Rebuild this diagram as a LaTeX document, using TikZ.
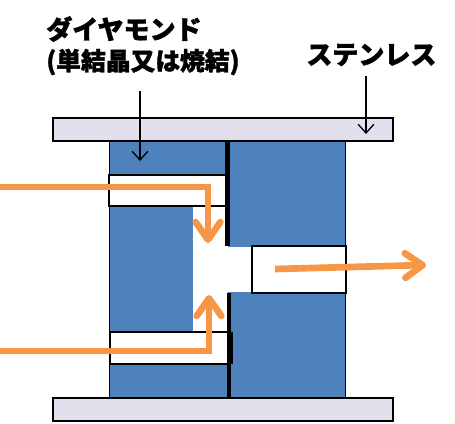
\documentclass[tikz,border=0pt]{standalone}
\usepackage{fontspec}
\newfontfamily\jpfont[BoldFeatures={FakeBold=1.5}]{Noto Sans CJK JP}
\usetikzlibrary{arrows.meta}
\definecolor{diamondblue}{HTML}{4F81BD}
\definecolor{steelgray}{HTML}{E4DFEC}
\definecolor{flowline}{HTML}{F79646}
\tikzset{
  plate/.style={draw=black, line width=1.1pt, fill=steelgray},
  block/.style={fill=diamondblue},
  channel/.style={draw=black, line width=1pt, fill=white},
  wall/.style={black, line width=0.75pt},
  heavy/.style={black, line width=2.4pt},
  pointer/.style={black, line width=0.75pt, -{Straight Barb[length=5pt,width=9pt,line width=0.75pt]}},
  flow/.style={flowline, line width=3.8pt, line join=miter, -{Straight Barb[length=10pt,width=14pt,line width=3.8pt,round]}},
  label/.style={inner sep=0pt, anchor=west},
  bigtext/.style={font=\jpfont\bfseries\fontsize{14.8}{16}\selectfont},
  smalltext/.style={font=\jpfont\bfseries\fontsize{14.1}{16}\selectfont}
}
\begin{document}
\begin{tikzpicture}[x=0.02cm, y=-0.02cm]
  \useasboundingbox (0,0) rectangle (455,423);

  % Diamond blocks
  \fill[block] (110,141) rectangle (228,176);
  \fill[block] (110,206) rectangle (193,333);
  \fill[block] (110,364) rectangle (228,398);
  \fill[block] (228,141) rectangle (345,247);
  \fill[block] (228,292) rectangle (345,398);

  % Gas channels
  \draw[channel] (109,175) rectangle (226,206);
  \draw[channel] (110,332) rectangle (228,364);
  \draw[channel] (252,246) rectangle (346,293);

  % Outer walls
  \draw[wall] (109.5,141) -- (109.5,398);
  \draw[wall] (345.5,141) -- (345.5,246);
  \draw[wall] (345.5,293) -- (345.5,398);
  \draw[heavy] (227.5,141) -- (227.5,246);
  \draw[heavy] (229,293) -- (229,398);
  \draw[heavy] (230.5,332) -- (230.5,364);

  % Stainless plates
  \draw[plate] (53,118) rectangle (393,141);
  \draw[plate] (53,398) rectangle (393,421);

  % Labels and pointers
  \node[label, bigtext] (diamond) at (46,29) {ダイヤモンド};
  \node[label, smalltext] (crystal) at (46,62) {(単結晶又は焼結)};
  \node[label, bigtext] (steel) at (306,55) {ステンレス};
  \coordinate (diamondfrom) at (140,91);
  \coordinate (diamondto) at (140,161);
  \coordinate (steelfrom) at (366,76);
  \coordinate (steelto) at (366,134);
  \draw[pointer] (diamondfrom) -- (diamondto);
  \draw[pointer] (steelfrom) -- (steelto);

  % Gas flow
  \coordinate (inupper) at (0,187);
  \coordinate (bendupper) at (208,187);
  \coordinate (tipupper) at (208,243);
  \coordinate (inlower) at (0,351);
  \coordinate (bendlower) at (209,351);
  \coordinate (tiplower) at (209,295);
  \coordinate (outfrom) at (275,269);
  \coordinate (outto) at (426,265);
  \draw[flow] (inupper) -- (bendupper) -- (tipupper);
  \draw[flow] (inlower) -- (bendlower) -- (tiplower);
  \draw[flow] (outfrom) -- (outto);
\end{tikzpicture}
\end{document}
